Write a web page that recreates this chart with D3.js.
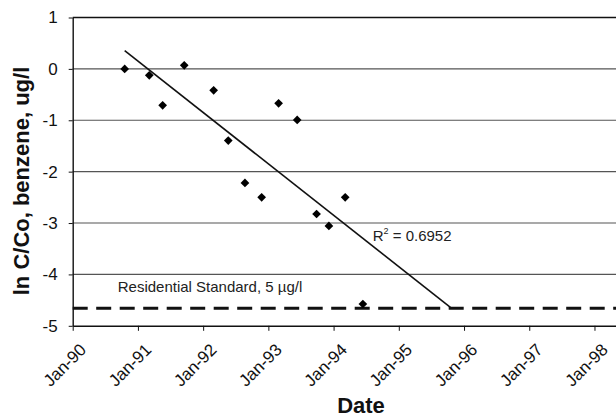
<!DOCTYPE html>
<html>
<head lang="en">
    <meta charset="UTF-8">
    <title>Benzene decline</title>
    <script src="https://cdn.jsdelivr.net/npm/d3@7/dist/d3.min.js" charset="utf-8"></script>
    <style>
        body { margin: 0; background: #fff; }
        svg { display: block; font-family: "Liberation Sans", Arial, sans-serif; }
    </style>
</head>
<body>
    <script>
        // sample dates as decimal years, ln(C/Co) values
        var dates = [1990.797, 1991.174, 1991.379, 1991.710, 1992.161, 1992.385, 1992.641,
                     1992.897, 1993.157, 1993.442, 1993.739, 1993.928, 1994.178, 1994.449];
        var lnC = [0, -0.125, -0.709, 0.07, -0.417, -1.396, -2.22,
                   -2.5, -0.67, -0.994, -2.824, -3.057, -2.5, -4.576];
        var xTickYears = [1990, 1991, 1992, 1993, 1994, 1995, 1996, 1997, 1998];
        var xTickLabels = ["Jan-90", "Jan-91", "Jan-92", "Jan-93", "Jan-94",
                           "Jan-95", "Jan-96", "Jan-97", "Jan-98"];
        var yTicks = [-5, -4, -3, -2, -1, 0, 1];
        var standard = -4.66; // ln(5 ug/l / Co)
        var r2Label = "0.6952";

        var w = 616;
        var h = 418;

        var svg = d3.select("body")
                .append("svg")
                .attr("width", w)
                .attr("height", h);

        var x = d3.scaleLinear().domain([1990, 1998.33]).range([72.7, 616]);
        var y = d3.scaleLinear().domain([-5, 1]).range([325.8, 17.5]);

        // horizontal grid
        svg.selectAll("line.grid")
                .data(yTicks.slice(1))
                .enter()
                .append("line")
                .attr("class", "grid")
                .attr("x1", x(1990))
                .attr("x2", w)
                .attr("y1", function (d) { return y(d); })
                .attr("y2", function (d) { return y(d); })
                .attr("stroke", function (d) { return d == 1 ? "#111" : "#555"; })
                .attr("stroke-width", function (d) { return d == 1 ? 1.3 : 1.1; });

        // residential standard
        svg.append("line")
                .attr("x1", x(1990))
                .attr("x2", w)
                .attr("y1", y(standard))
                .attr("y2", y(standard))
                .attr("stroke", "#111")
                .attr("stroke-width", 3)
                .attr("stroke-dasharray", "15,8.5");

        svg.append("text")
                .attr("x", x(1990.69))
                .attr("y", y(-4.34))
                .attr("font-size", 15)
                .attr("fill", "#222")
                .text("Residential Standard, 5 \u00b5g/l");

        // least squares trend line
        var n = dates.length;
        var mx = d3.mean(dates), my = d3.mean(lnC);
        var sxy = 0, sxx = 0;
        for (var i = 0; i < n; i++) {
            sxy += (dates[i] - mx) * (lnC[i] - my);
            sxx += (dates[i] - mx) * (dates[i] - mx);
        }
        var slope = sxy / sxx;
        var icpt = my - slope * mx;
        var xEnd = (standard - icpt) / slope;
        var xStart = d3.min(dates);

        svg.append("line")
                .attr("x1", x(xStart))
                .attr("y1", y(icpt + slope * xStart))
                .attr("x2", x(xEnd))
                .attr("y2", y(icpt + slope * xEnd))
                .attr("stroke", "#111")
                .attr("stroke-width", 1.6);

        var r2 = svg.append("text")
                .attr("x", x(1994.6))
                .attr("y", y(-3.34))
                .attr("font-size", 15)
                .attr("fill", "#222");
        r2.append("tspan").text("R");
        r2.append("tspan").attr("font-size", 9).attr("dy", -7).text("2");
        r2.append("tspan").attr("dy", 7).text(" = " + r2Label);

        // axes
        var yAxis = svg.append("g")
                .attr("transform", "translate(" + x(1990) + ",0)")
                .call(d3.axisLeft(y).tickValues(yTicks).tickSize(4).tickPadding(11).tickSizeOuter(0)
                        .tickFormat(function (d) { return String(d); }));
        yAxis.select(".domain").attr("stroke", "#111").attr("stroke-width", 1.4);
        yAxis.selectAll("line").attr("stroke", "#111");
        yAxis.selectAll("text").attr("font-size", 17).attr("fill", "#111").attr("font-family", null);

        var xAxis = svg.append("g")
                .attr("transform", "translate(0," + y(-5) + ")")
                .call(d3.axisBottom(x).tickValues(xTickYears).tickSize(5).tickSizeOuter(0)
                        .tickFormat(function (d, i) { return xTickLabels[i]; }));
        xAxis.select(".domain").attr("stroke", "#111").attr("stroke-width", 1.6);
        xAxis.selectAll("line").attr("stroke", "#111");
        xAxis.selectAll("text")
                .attr("font-size", 17)
                .attr("fill", "#111")
                .attr("font-family", null)
                .attr("text-anchor", "end")
                .attr("x", 0)
                .attr("y", 0)
                .attr("dy", 0)
                .attr("transform", "translate(14,25) rotate(-45)");

        // markers
        var diamond = d3.symbol().type(d3.symbolSquare).size(38);
        svg.selectAll("path.pt")
                .data(dates)
                .enter()
                .append("path")
                .attr("class", "pt")
                .attr("d", diamond)
                .attr("fill", "#000")
                .attr("transform", function (d, i) {
                    return "translate(" + x(d) + "," + y(lnC[i]) + ") rotate(45)";
                });

        // titles
        svg.append("text")
                .attr("transform", "translate(29," + 181 + ") rotate(-90)")
                .attr("text-anchor", "middle")
                .attr("font-size", 22)
                .attr("font-weight", "bold")
                .attr("fill", "#111")
                .text("ln C/Co, benzene, ug/l");

        svg.append("text")
                .attr("x", 361)
                .attr("y", 413)
                .attr("text-anchor", "middle")
                .attr("font-size", 22)
                .attr("font-weight", "bold")
                .attr("fill", "#111")
                .text("Date");
    </script>
</body>
</html>
